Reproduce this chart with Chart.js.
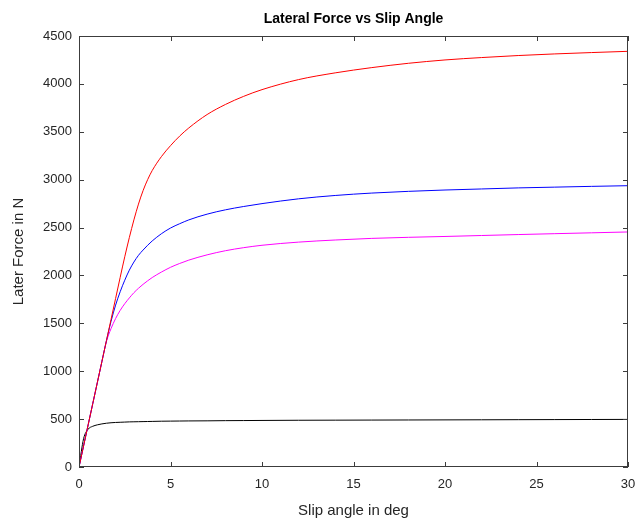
<!DOCTYPE html>
<html>
<head>
<meta charset="utf-8">
<script src="https://cdn.jsdelivr.net/npm/chart.js@4/dist/chart.umd.min.js"></script>
<style>
  html, body { margin: 0; padding: 0; background: #fff; }
  #wrap { width: 638px; height: 522px; }
</style>
</head>
<body>
<div id="wrap"><canvas id="myChart"></canvas></div>
<script>
// slip angle in deg, shared by every curve
const slipAngle = [0, 0.25, 0.5, 0.75, 1, 1.25, 1.5, 1.75, 2, 2.25, 2.5, 2.75, 3, 3.25, 3.5, 3.75, 4,
  4.5, 5, 5.5, 6, 7, 8, 9, 10, 12, 14, 16, 18, 20, 22, 24, 26, 28, 30];

// lateral force in N
const forceRed = [0, 220, 440, 660, 880, 1100, 1320, 1540, 1760, 1980, 2195, 2395, 2580, 2745, 2885, 3000, 3095,
  3240, 3355, 3455, 3540, 3680, 3785, 3870, 3940, 4045, 4115, 4170, 4215, 4250, 4275, 4296, 4313, 4327, 4340];
const forceBlue = [0, 220, 440, 660, 880, 1100, 1320, 1520, 1690, 1830, 1950, 2055, 2140, 2210, 2265, 2315, 2360,
  2435, 2495, 2540, 2580, 2640, 2685, 2720, 2750, 2800, 2835, 2860, 2878, 2892, 2903, 2914, 2922, 2930, 2937];
const forceMagenta = [0, 220, 440, 660, 880, 1100, 1310, 1445, 1550, 1635, 1705, 1765, 1820, 1866, 1907, 1944, 1978,
  2035, 2085, 2125, 2160, 2215, 2258, 2290, 2315, 2348, 2370, 2387, 2398, 2407, 2417, 2427, 2436, 2445, 2454];
const forceBlack = [0, 295, 395, 425, 440, 450, 457, 462, 465, 467, 469, 471, 472, 473, 474, 475, 476,
  478, 479, 480, 481, 482, 484, 485, 486, 488, 489, 490, 491, 492, 493, 494, 495, 496, 497];

const xTicks = [0, 5, 10, 15, 20, 25, 30];
const yTicks = [0, 500, 1000, 1500, 2000, 2500, 3000, 3500, 4000, 4500];

const axisColor = "#3c3c3c";
const textColor = "#262626";
const fontFamily = "Liberation Sans, Arial, sans-serif";

let toPoints = (ys) => slipAngle.map((x, i) => ({ x: x, y: ys[i] }));

let series = (ys, color) => ({
  data: toPoints(ys),
  borderColor: color,
  backgroundColor: color,
  borderWidth: 1,
  pointRadius: 0,
  showLine: true,
  fill: false,
  cubicInterpolationMode: "monotone"
});

// matlab style box with inward ticks on all four sides
const boxPlugin = {
  id: "box",
  afterDraw(chart) {
    const c = chart.ctx;
    const a = chart.chartArea;
    const xs = chart.scales.x;
    const ys = chart.scales.y;
    const len = 5;
    c.save();
    c.strokeStyle = axisColor;
    c.lineWidth = 1;
    c.strokeRect(a.left + 0.5, a.top + 0.5, a.right - a.left - 1, a.bottom - a.top - 1);
    c.beginPath();
    xTicks.forEach((v) => {
      const px = Math.round(xs.getPixelForValue(v)) + 0.5;
      c.moveTo(px, a.bottom); c.lineTo(px, a.bottom - len);
      c.moveTo(px, a.top); c.lineTo(px, a.top + len);
    });
    yTicks.forEach((v) => {
      const py = Math.round(ys.getPixelForValue(v)) + 0.5;
      c.moveTo(a.left, py); c.lineTo(a.left + len, py);
      c.moveTo(a.right, py); c.lineTo(a.right - len, py);
    });
    c.stroke();
    c.restore();
  }
};

new Chart(document.getElementById("myChart").getContext("2d"), {
  type: "scatter",
  data: {
    datasets: [
      series(forceRed, "#ff0000"),
      series(forceBlue, "#0000ff"),
      series(forceMagenta, "#ff00ff"),
      series(forceBlack, "#000000")
    ]
  },
  options: {
    responsive: true,
    maintainAspectRatio: false,
    animation: false,
    layout: { padding: { left: 0, right: 10, top: 0, bottom: 0 } },
    plugins: {
      legend: { display: false },
      tooltip: { enabled: false },
      title: {
        display: true,
        text: "Lateral Force vs Slip Angle",
        fullSize: false,
        color: "#000",
        font: { family: fontFamily, size: 14, weight: "bold" },
        padding: { top: 11, bottom: 8.2 }
      }
    },
    scales: {
      x: {
        type: "linear",
        min: 0,
        max: 30,
        afterBuildTicks: (s) => { s.ticks = xTicks.map((v) => ({ value: v })); },
        afterFit: (s) => { s.height = 55; s.paddingLeft = 0; s.paddingRight = 0; },
        grid: { display: false, drawTicks: false },
        border: { display: false },
        ticks: {
          color: textColor,
          padding: 10,
          maxRotation: 0,
          callback: (v) => String(v),
          font: { family: fontFamily, size: 13 }
        },
        title: {
          display: true,
          text: "Slip angle in deg",
          color: textColor,
          font: { family: fontFamily, size: 15 },
          padding: { top: 0, bottom: 2 }
        }
      },
      y: {
        type: "linear",
        min: 0,
        max: 4500,
        afterBuildTicks: (s) => { s.ticks = yTicks.map((v) => ({ value: v })); },
        afterFit: (s) => { s.width = 79; s.paddingTop = 0; s.paddingBottom = 0; },
        grid: { display: false, drawTicks: false },
        border: { display: false },
        ticks: {
          color: textColor,
          padding: 7,
          callback: (v) => String(v),
          font: { family: fontFamily, size: 13 }
        },
        title: {
          display: true,
          text: "Later Force in N",
          color: textColor,
          font: { family: fontFamily, size: 15 },
          padding: { top: 10, bottom: 0 }
        }
      }
    }
  },
  plugins: [boxPlugin]
});
</script>
</body>
</html>
